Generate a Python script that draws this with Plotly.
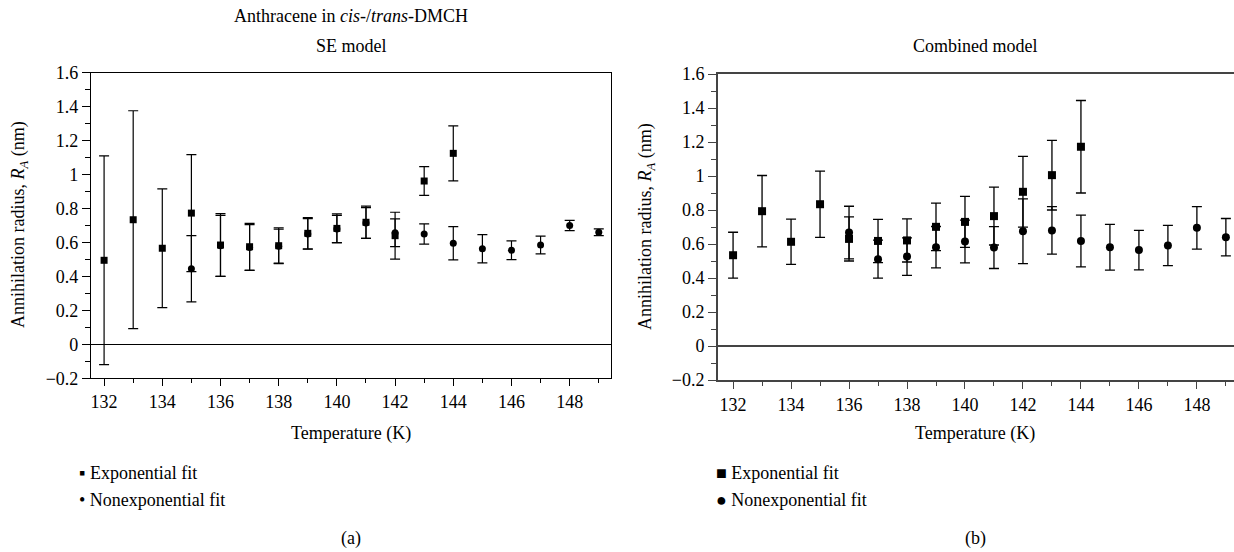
import plotly.graph_objects as go

# ---------------- data ----------------
# Panel (a): SE model
a_exp_T = [132, 133, 134, 135, 136, 137, 138, 139, 140, 141, 142, 143, 144]
a_exp_R = [0.495, 0.734, 0.566, 0.773, 0.585, 0.575, 0.581, 0.654, 0.683, 0.719, 0.640, 0.962, 1.125]
a_exp_E = [0.615, 0.642, 0.350, 0.345, 0.185, 0.138, 0.105, 0.092, 0.085, 0.095, 0.138, 0.085, 0.162]

a_non_T = [135, 136, 137, 138, 139, 140, 141, 142, 143, 144, 145, 146, 147, 148, 149]
a_non_R = [0.445, 0.580, 0.570, 0.578, 0.650, 0.680, 0.715, 0.657, 0.650, 0.595, 0.563, 0.554, 0.585, 0.700, 0.660]
a_non_E = [0.195, 0.180, 0.135, 0.100, 0.090, 0.080, 0.090, 0.082, 0.060, 0.098, 0.083, 0.055, 0.052, 0.030, 0.020]

# Panel (b): Combined model
b_exp_T = [132, 133, 134, 135, 136, 137, 138, 139, 140, 141, 142, 143, 144]
b_exp_R = [0.534, 0.793, 0.613, 0.834, 0.630, 0.618, 0.621, 0.701, 0.730, 0.764, 0.907, 1.005, 1.172]
b_exp_E = [0.135, 0.210, 0.133, 0.195, 0.130, 0.127, 0.127, 0.140, 0.150, 0.170, 0.208, 0.205, 0.272]

b_non_T = [136, 137, 138, 139, 140, 141, 142, 143, 144, 145, 146, 147, 148, 149]
b_non_R = [0.667, 0.511, 0.526, 0.581, 0.615, 0.579, 0.675, 0.680, 0.618, 0.581, 0.564, 0.591, 0.695, 0.640]
b_non_E = [0.155, 0.112, 0.110, 0.122, 0.126, 0.123, 0.190, 0.140, 0.152, 0.135, 0.116, 0.118, 0.125, 0.110]

title_a1 = "Anthracene in <i>cis</i>-/<i>trans</i>-DMCH"
title_a2 = "SE model"
title_b = "Combined model"
x_title = "Temperature (K)"
y_title = "Annihilation radius, <i>R</i><sub><i>A</i></sub> (nm)"
leg_exp = "Exponential fit"
leg_non = "Nonexponential fit"

FONT = "Liberation Serif, DejaVu Serif, Times New Roman, serif"
W, H = 1234, 552

fig = go.Figure()

def add_series(T, R, E, sym, size, xa, ya, lw):
    fig.add_trace(go.Scatter(
        x=T, y=R, mode="markers", xaxis=xa, yaxis=ya, showlegend=False,
        marker=dict(symbol=sym, size=size, color="black"),
        error_y=dict(type="data", array=E, visible=True, color="black",
                     thickness=lw, width=5),
        cliponaxis=False,
    ))

add_series(a_exp_T, a_exp_R, a_exp_E, "square", 7, "x", "y", 1.2)
add_series(a_non_T, a_non_R, a_non_E, "circle", 7, "x", "y", 1.2)
add_series(b_exp_T, b_exp_R, b_exp_E, "square", 8, "x2", "y2", 1.3)
add_series(b_non_T, b_non_R, b_non_E, "circle", 8, "x2", "y2", 1.3)

def px_x(p):
    return p / W

def px_y(p):
    return 1 - p / H

tickfont = dict(family=FONT, size=18, color="black")

def xaxis(domain, rng, col, lw):
    return dict(
        domain=domain, range=rng, tickmode="linear", tick0=132, dtick=2,
        ticks="outside", ticklen=7, tickwidth=1.2, tickcolor=col,
        minor=dict(ticks="outside", ticklen=4, dtick=1, tick0=132, tickcolor=col, tickwidth=1.2),
        showline=True, linecolor=col, linewidth=lw, mirror=True,
        showgrid=False, zeroline=False, tickfont=tickfont, automargin=False,
    )

def yaxis(domain, col, lw):
    return dict(
        domain=domain, range=[-0.2, 1.6], tickmode="linear", tick0=0, dtick=0.2,
        ticks="outside", ticklen=8, tickwidth=1.2, tickcolor=col,
        minor=dict(ticks="outside", ticklen=5, dtick=0.1, tick0=0, tickcolor=col, tickwidth=1.2),
        showline=True, linecolor=col, linewidth=lw, mirror=True,
        showgrid=False, zeroline=True, zerolinecolor=col, zerolinewidth=lw,
        tickfont=tickfont, automargin=False,
    )

ydom_a = [px_y(378.3), px_y(72.7)]
ydom_b = [px_y(380.0), px_y(74.0)]

xa = xaxis([px_x(91), px_x(611)], [131.55, 149.42], "black", 1.2)
xa["anchor"] = "y"
xb = xaxis([px_x(718), 1.0], [131.48, 149.28], "#444", 1.8)
xb["anchor"] = "y2"
ya = yaxis(ydom_a, "black", 1.2)
ya["anchor"] = "x"
yb = yaxis(ydom_b, "#444", 1.8)
yb["anchor"] = "x2"

txt = dict(family=FONT, size=18, color="black")
ann = []
def add_ann(text, xp, yp, angle=0, xanchor="center"):
    ann.append(dict(text=text, x=px_x(xp), y=px_y(yp), xref="paper", yref="paper",
                    showarrow=False, font=txt, textangle=angle, xanchor=xanchor,
                    yanchor="middle"))

add_ann(title_a1, 351, 16)
add_ann(title_a2, 351, 46)
add_ann(title_b, 975, 46)
add_ann(x_title, 351, 433)
add_ann(x_title, 975, 433)
add_ann(y_title, 20, 225, angle=-90)
add_ann(y_title, 647, 227, angle=-90)
add_ann("▪ " + leg_exp, 77, 473, xanchor="left")
add_ann("• " + leg_non, 77, 500, xanchor="left")
add_ann("■ " + leg_exp, 714, 473, xanchor="left")
add_ann("● " + leg_non, 714, 500, xanchor="left")
add_ann("(a)", 351, 538)
add_ann("(b)", 975, 538)

fig.update_layout(
    width=W, height=H, margin=dict(l=0, r=0, t=0, b=0),
    paper_bgcolor="white", plot_bgcolor="white",
    xaxis=xa, yaxis=ya, xaxis2=xb, yaxis2=yb,
    annotations=ann, showlegend=False,
    font=dict(family=FONT, size=18, color="black"),
)

fig.write_html(
    "out.html",
    config={"displayModeBar": False},
    post_script="document.body.style.margin='0';document.body.style.padding='0';",
)
